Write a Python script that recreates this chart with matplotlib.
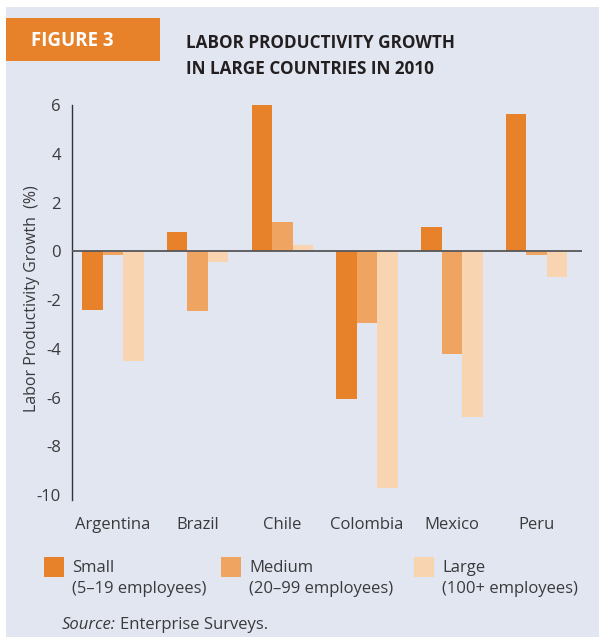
import matplotlib
matplotlib.use("Agg")
import matplotlib.pyplot as plt
from matplotlib.patches import Rectangle
import numpy as np

# data
countries = ["Argentina", "Brazil", "Chile", "Colombia", "Mexico", "Peru"]
small = [-2.4, 0.8, 6.0, -6.05, 1.0, 5.65]
medium = [-0.15, -2.45, 1.2, -2.95, -4.2, -0.15]
large = [-4.5, -0.45, 0.25, -9.7, -6.8, -1.05]
yticks = [6, 4, 2, 0, -2, -4, -6, -8, -10]

series_names = ["Small", "Medium", "Large"]
series_notes = ["(5–19 employees)", "(20–99 employees)", "(100+ employees)"]
colors = ["#e8822a", "#f0a462", "#f8d4b0"]

BG = "#e2e6f1"
TXT = "#3a3a3c"
plt.rcParams["font.family"] = ["Open Sans", "DejaVu Sans"]

W, H = 599, 637
fig = plt.figure(figsize=(W / 100, H / 100), dpi=100, facecolor="white")

# panel background and header box
fig.patches.append(Rectangle((6 / W, 0), 1 - 6 / W, 1 - 7 / H, transform=fig.transFigure,
                             facecolor=BG, edgecolor="none", zorder=-2))
fig.patches.append(Rectangle((6 / W, 1 - 61 / H), 154 / W, 43 / H, transform=fig.transFigure,
                             facecolor="#e8822a", edgecolor="none", zorder=-1))
fig.text(31 / W, 1 - 41 / H, "FIGURE 3", color="white", fontsize=13.5, fontweight="bold",
         va="center", ha="left")
fig.text(186 / W, 1 - 43 / H, "LABOR PRODUCTIVITY GROWTH", color="#231f20", fontsize=12.3,
         fontweight="bold", va="center", ha="left")
fig.text(186 / W, 1 - 69 / H, "IN LARGE COUNTRIES IN 2010", color="#231f20", fontsize=12.3,
         fontweight="bold", va="center", ha="left")

# chart
ax = fig.add_axes([72 / W, 1 - 500 / H, 510 / W, 395 / H])
ax.set_facecolor("none")
x = np.arange(len(countries))
bw = 0.242
for i, (vals, c) in enumerate(zip([small, medium, large], colors)):
    ax.bar(x + (i - 1) * bw, vals, width=bw, color=c, linewidth=0, zorder=2)

ax.axhline(0, color="#55565a", lw=1.3, zorder=3)
ax.set_xlim(-0.484, 5.537)
ax.set_ylim(-10.2, 6.0)
ax.set_yticks(yticks)
ax.set_yticklabels([str(v) for v in yticks], fontsize=12, color=TXT)
ax.set_xticks(x)
ax.set_xticklabels(countries, fontsize=12, color=TXT)
ax.tick_params(axis="both", length=0)
ax.tick_params(axis="y", pad=8)
ax.tick_params(axis="x", pad=12)
for s in ["top", "right", "bottom"]:
    ax.spines[s].set_visible(False)
ax.spines["left"].set_color("#333335")
ax.spines["left"].set_linewidth(1.0)
ax.set_ylabel("Labor Productivity Growth  (%)", fontsize=11.5, color=TXT)
ax.yaxis.set_label_coords(-0.062, 0.51)

# legend
legend_x = [44, 221, 414]
for lx, name, note, c in zip(legend_x, series_names, series_notes, colors):
    fig.patches.append(Rectangle((lx / W, 1 - 577 / H), 20 / W, 20 / H, transform=fig.transFigure,
                                 facecolor=c, edgecolor="none", zorder=2))
    fig.text((lx + 28) / W, 1 - 568 / H, name, fontsize=12, color=TXT, va="center", ha="left")
    fig.text((lx + 28) / W, 1 - 589 / H, note, fontsize=12, color=TXT, va="center", ha="left")

# source line
t1 = fig.text(62 / W, 1 - 625 / H, "Source:", fontsize=12, style="italic", color=TXT,
              va="center", ha="left")
fig.canvas.draw()
bb = t1.get_window_extent()
fig.text((bb.x1 + 4) / W, 1 - 625 / H, "Enterprise Surveys.", fontsize=12, color=TXT,
         va="center", ha="left")

fig.savefig("out.png", dpi=100, facecolor="white")
